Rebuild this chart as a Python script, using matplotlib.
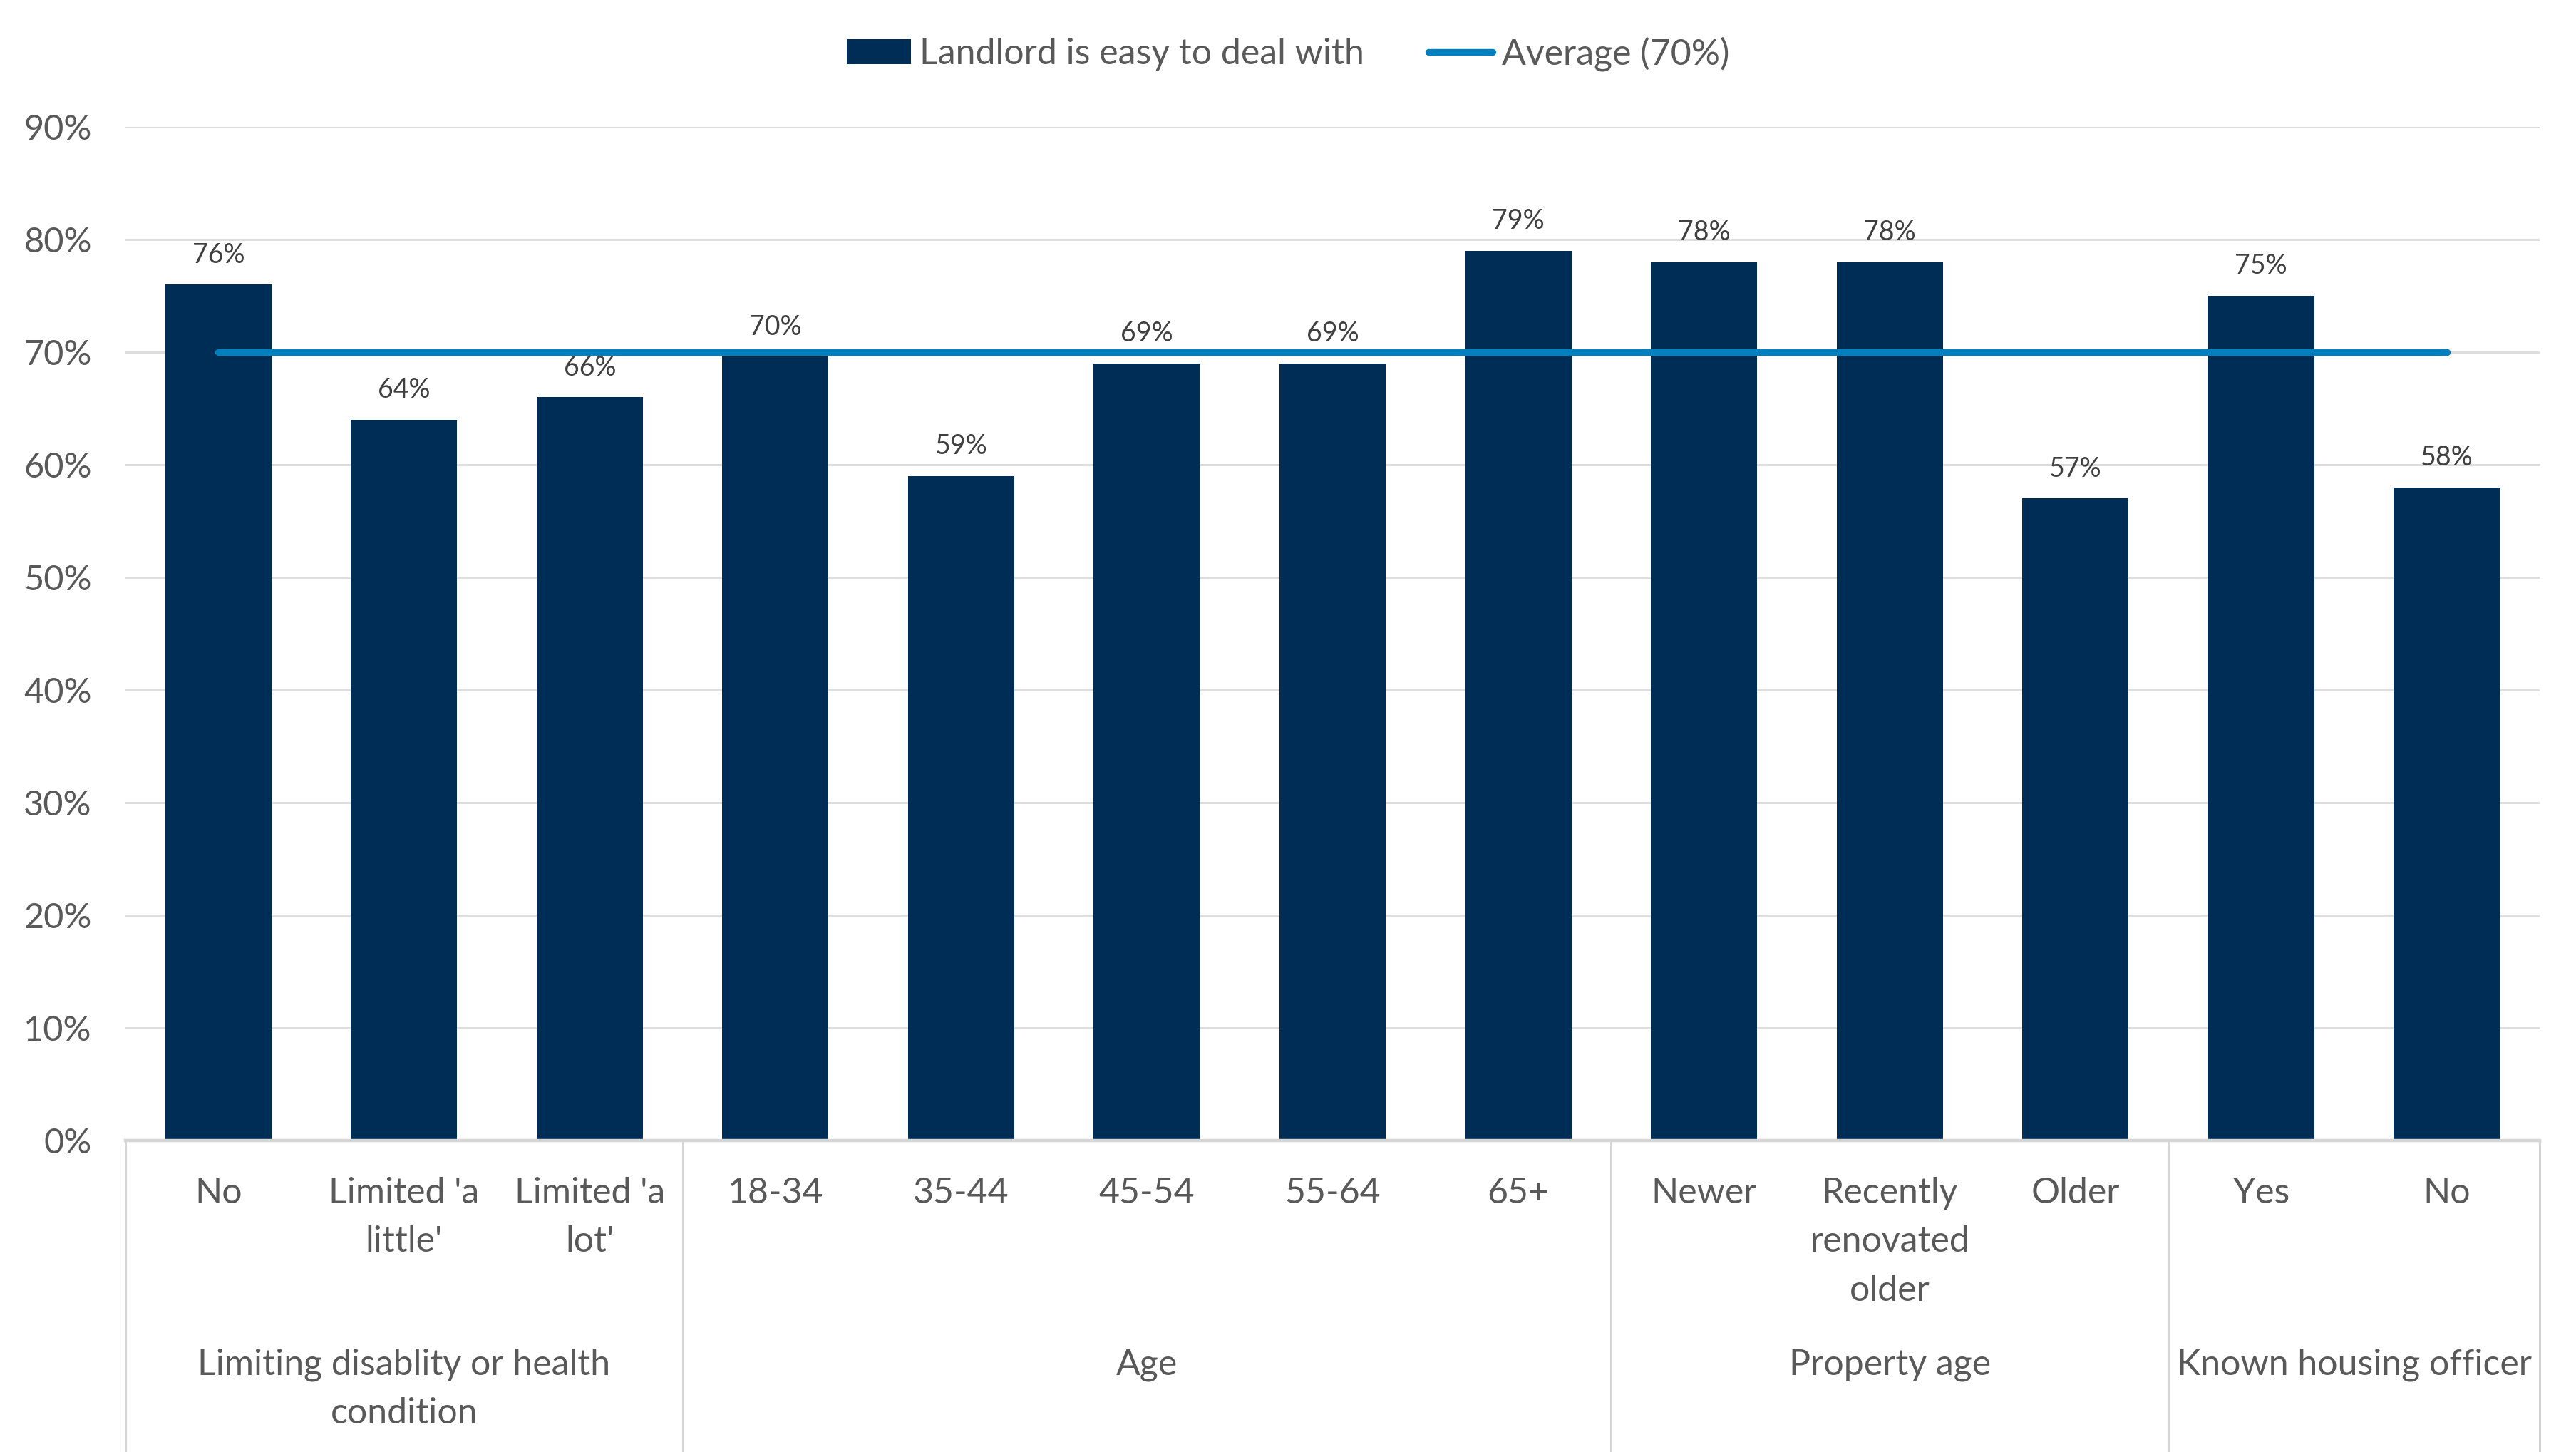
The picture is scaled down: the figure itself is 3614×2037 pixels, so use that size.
import matplotlib.pyplot as plt

# data
categories = ["No", "Limited 'a\nlittle'", "Limited 'a\nlot'", "18-34", "35-44",
              "45-54", "55-64", "65+", "Newer", "Recently\nrenovated\nolder",
              "Older", "Yes", "No"]
values = [76, 64, 66, 69.6, 59, 69, 69, 79, 78, 78, 57, 75, 58]
value_labels = ["76%", "64%", "66%", "70%", "59%", "69%", "69%", "79%",
                "78%", "78%", "57%", "75%", "58%"]
groups = ["Limiting disablity or health\ncondition", "Age", "Property age",
          "Known housing officer"]
group_sizes = [3, 5, 3, 2]
average = 70
yticks = [0, 10, 20, 30, 40, 50, 60, 70, 80, 90]

BAR = "#002D55"
LINE = "#0080BF"
GRID = "#DEDEDE"
TXT = "#595959"

plt.rcParams["font.family"] = ["Lato", "DejaVu Sans"]

fig = plt.figure(figsize=(18.07, 10.185), dpi=200)
ax = fig.add_axes([0.0487, 0.2145, 0.9372, 0.6981])

x = list(range(len(values)))
bars = ax.bar(x, values, width=0.572, color=BAR, zorder=2,
              label="Landlord is easy to deal with")
avg_line, = ax.plot([x[0], x[-1]], [average, average], color=LINE, lw=3.4,
                    solid_capstyle="round", zorder=3, label="Average (70%)")

for xi, v, lab in zip(x, values, value_labels):
    ax.annotate(lab, (xi, v), xytext=(0, 15), textcoords="offset points",
                ha="center", va="center", fontsize=13.5, color="#404040")

ax.set_xlim(-0.5, len(values) - 0.5)
ax.set_ylim(0, 90)
ax.set_yticks(yticks)
ax.set_yticklabels([f"{t}%" for t in yticks])
ax.tick_params(axis="y", length=0, pad=17, labelsize=17.5, labelcolor=TXT)
ax.set_xticks([])
ax.yaxis.grid(True, color=GRID, lw=1.1, zorder=0)
ax.set_axisbelow(True)
for s in ["top", "right", "left"]:
    ax.spines[s].set_visible(False)
ax.spines["bottom"].set_color("#D5D5D5")
ax.spines["bottom"].set_linewidth(1.6)

trans = ax.get_xaxis_transform()
for xi, lab in zip(x, categories):
    ax.text(xi, -0.036, lab, transform=trans, ha="center", va="top",
            fontsize=18, color=TXT, linespacing=1.6)

# group labels and separators
start = 0
bounds = [-0.5]
for g, n in zip(groups, group_sizes):
    mid = start + (n - 1) / 2
    ax.text(mid, -0.205, g, transform=trans, ha="center", va="top",
            fontsize=18, color=TXT, linespacing=1.58)
    start += n
    bounds.append(start - 0.5)
for b in bounds:
    ax.plot([b, b], [0, -0.4], transform=trans, color="#D5D5D5", lw=1.1,
            clip_on=False)

fig.legend(handles=[bars, avg_line], loc="center",
           bbox_to_anchor=(0.5, 0.963), ncol=2, frameon=False,
           fontsize=18, labelcolor=TXT, handlelength=1.8, handleheight=0.7,
           handletextpad=0.25, columnspacing=1.8)

fig.savefig("out.png", dpi=200)
